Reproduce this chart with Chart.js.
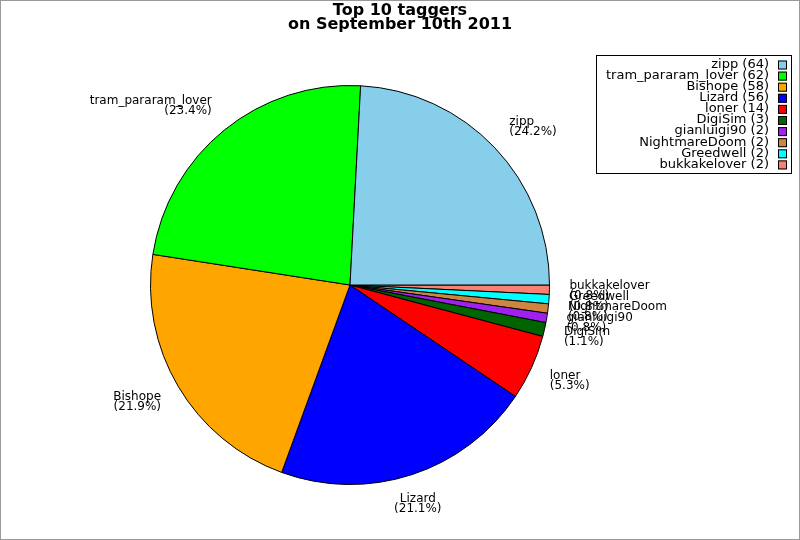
<!DOCTYPE html>
<html>
<head>
<meta charset="utf-8">
<script src="https://cdn.jsdelivr.net/npm/chart.js@4"></script>
<style>
  html, body { margin: 0; padding: 0; background: #fff; }
  #wrap { width: 798px; height: 538px; border: 1px solid #999; position: relative; }
</style>
</head>
<body>
<div id="wrap"><canvas id="pie" width="798" height="538"></canvas></div>
<script>
// Data
const taggers = ['zipp', 'tram_pararam_lover', 'Bishope', 'Lizard', 'loner', 'DigiSim', 'gianluigi90', 'NightmareDoom', 'Greedwell', 'bukkakelover'];
const tagCounts = [64, 62, 58, 56, 14, 3, 2, 2, 2, 2];
const sliceColors = ['#87CEEB', '#00FF00', '#FFA500', '#0000FF', '#FF0000', '#006400', '#A020F0', '#CD853F', '#00FFFF', '#FA8072'];
const titleLines = ['Top 10 taggers', 'on September 10th 2011'];

const total = tagCounts.reduce((a, b) => a + b, 0);
const FONT = '"DejaVu Sans", sans-serif';

// the original goes counter-clockwise from 3 o'clock, Chart.js goes clockwise,
// so feed the slices in reverse and start at 3 o'clock
const revLabels = taggers.slice().reverse();
const revCounts = tagCounts.slice().reverse();
const revColors = sliceColors.slice().reverse();

// Plugin to draw title, slice labels and the legend box
const decorations = {
    id: 'decorations',
    afterDraw(chart) {
        const ctx = chart.ctx;
        const meta = chart.getDatasetMeta(0);
        ctx.save();

        // title
        ctx.fillStyle = '#000';
        ctx.font = 'bold 16px ' + FONT;
        ctx.textAlign = 'center';
        ctx.textBaseline = 'top';
        ctx.fillText(titleLines[0], 399, 2);
        ctx.fillText(titleLines[1], 399, 16);

        // slice labels
        ctx.font = '12px ' + FONT;
        ctx.textBaseline = 'top';
        const lineH = 10;
        meta.data.forEach((arc, i) => {
            const mid = (arc.startAngle + arc.endAngle) / 2;
            const r = arc.outerRadius * 1.1;
            const ax = arc.x + Math.cos(mid) * r;
            const ay = arc.y + Math.sin(mid) * r;
            const pct = '(' + (revCounts[i] / total * 100).toFixed(1) + '%)';
            const lines = [revLabels[i], pct];
            const h = lineH * 2 + 2;
            const c = Math.cos(mid), s = -Math.sin(mid);
            const top = ay - (1 + s) / 2 * h;
            // right side left aligned, left side right aligned, bottom centred
            ctx.textAlign = c > 0.5 ? 'left' : (c < -0.5 ? 'right' : 'center');
            lines.forEach((t, k) => ctx.fillText(t, ax, top + k * lineH));
        });

        // legend box
        const lx = 596, ly = 55, lw = 195, lh = 118;
        ctx.fillStyle = '#fff';
        ctx.fillRect(lx, ly, lw, lh);
        ctx.strokeStyle = '#000';
        ctx.lineWidth = 1;
        ctx.strokeRect(lx - 0.5, ly - 0.5, lw, lh);
        ctx.font = '13px ' + FONT;
        ctx.textAlign = 'right';
        ctx.textBaseline = 'middle';
        taggers.forEach((name, i) => {
            const y = ly + 8.5 + i * 11.1;
            ctx.fillStyle = '#000';
            ctx.fillText(name + ' (' + tagCounts[i] + ')', 768, y);
            ctx.fillStyle = sliceColors[i];
            ctx.fillRect(777, y - 4, 9, 9);
            ctx.strokeRect(777.5, y - 3.5, 8, 8);
        });

        ctx.restore();
    }
};

new Chart(document.getElementById('pie').getContext('2d'), {
    type: 'pie',
    data: {
        labels: revLabels,
        datasets: [{
            data: revCounts,
            backgroundColor: revColors,
            borderColor: '#000',
            borderWidth: 1
        }]
    },
    options: {
        responsive: false,
        animation: false,
        rotation: 90,
        layout: { padding: { left: 149, right: 249, top: 84, bottom: 54 } },
        plugins: {
            legend: { display: false },
            title: { display: false },
            tooltip: { enabled: false }
        }
    },
    plugins: [decorations]
});
</script>
</body>
</html>
